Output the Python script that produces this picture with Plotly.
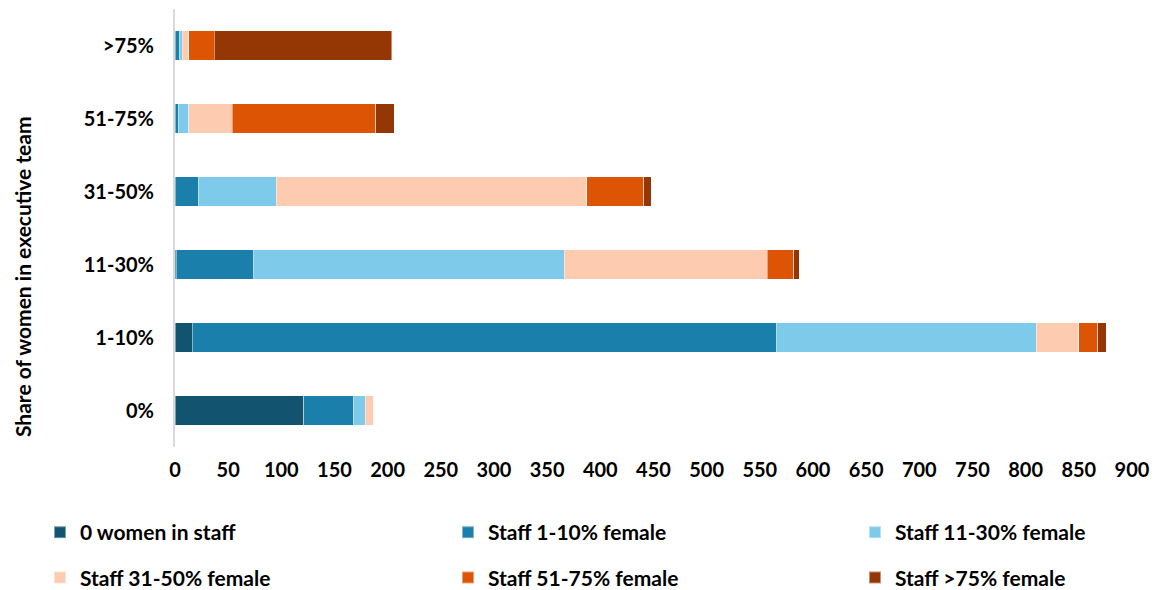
import plotly.graph_objects as go

categories = ["0%", "1-10%", "11-30%", "31-50%", "51-75%", ">75%"]

zero_women = [121, 16, 1, 0, 0, 0]
staff_1_10 = [47, 550, 73, 22, 3, 4]
staff_11_30 = [11, 244, 292, 73, 10, 3]
staff_31_50 = [8, 40, 191, 292, 41, 6]
staff_51_75 = [0, 18, 25, 54, 135, 24]
staff_75 = [0, 8, 5, 7, 17, 167]

series_names = ["0 women in staff", "Staff 1-10% female", "Staff 11-30% female",
                "Staff 31-50% female", "Staff 51-75% female", "Staff >75% female"]
series_values = [zero_women, staff_1_10, staff_11_30, staff_31_50, staff_51_75, staff_75]
colors = ["#12546F", "#1B7FAB", "#7DCAEB", "#FCCBB0", "#DD5405", "#943704"]
legend_ids = ["legend", "legend2", "legend3", "legend", "legend2", "legend3"]

FONT = "Lato"
W, H = 1152, 582

fig = go.Figure()
for i, (name, vals) in enumerate(zip(series_names, series_values)):
    fig.add_trace(go.Bar(
        y=categories, x=vals, name=name, orientation="h",
        marker=dict(color=colors[i], line=dict(color="rgba(255,255,255,0.45)", width=1)),
        legend=legend_ids[i], legendgroup=name,
    ))

leg_common = dict(
    orientation="v", xref="container", yref="container", yanchor="top", xanchor="left",
    font=dict(family=FONT, size=21, color="#000000", weight="bold"),
    tracegroupgap=15, bgcolor="rgba(0,0,0,0)", itemsizing="constant",
)
y_leg = 1 - 504 / H
fig.update_layout(
    barmode="stack",
    bargap=0.6,
    width=W, height=H,
    margin=dict(l=167, r=28, t=1, b=143, autoexpand=False),
    plot_bgcolor="white", paper_bgcolor="white",
    font=dict(family=FONT, size=20, color="#000000", weight="bold"),
    legend=dict(x=32 / W, y=y_leg, **leg_common),
    legend2=dict(x=440 / W, y=y_leg, **leg_common),
    legend3=dict(x=847 / W, y=y_leg, **leg_common),
    xaxis=dict(range=[0, 900], dtick=50, showgrid=False, zeroline=False, showline=False,
               ticks="", tickfont=dict(family=FONT, size=20, weight="bold"),
               ticklabelstandoff=9),
    yaxis=dict(showgrid=False, zeroline=False, showline=True, linecolor="#D9D9D9", linewidth=2,
               ticks="", ticklabelstandoff=15,
               tickfont=dict(family=FONT, size=20, weight="bold")),
    annotations=[dict(
        text="Share of women in executive team", textangle=-90,
        xref="paper", yref="paper", x=(14 - 167) / 957, y=(439 - 269) / 438,
        xanchor="center", yanchor="middle", showarrow=False,
        font=dict(family=FONT, size=21, color="#000000", weight="bold"),
    )],
)

fig.write_html("out.html")
